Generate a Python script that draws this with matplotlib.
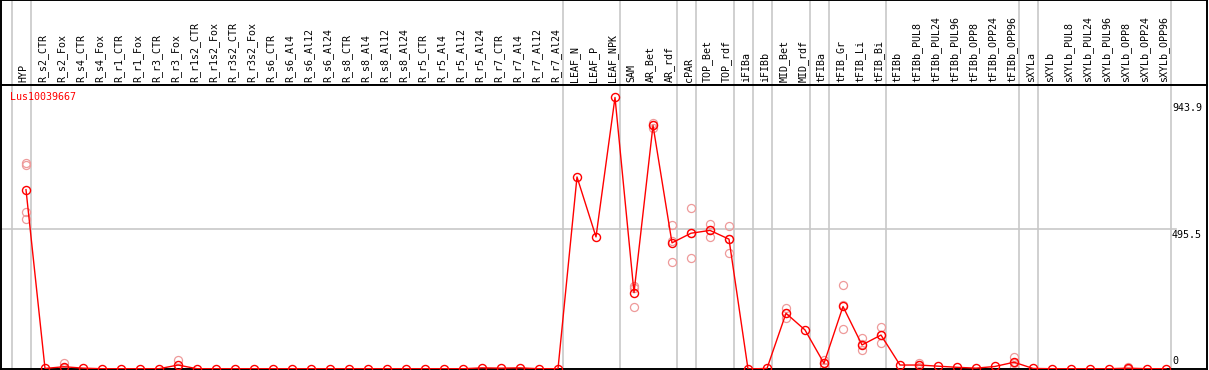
import matplotlib
matplotlib.use("Agg")
import matplotlib.pyplot as plt
from matplotlib.transforms import blended_transform_factory

samples = ["HYP", "R_s2_CTR", "R_s2_Fox", "R_s4_CTR", "R_s4_Fox", "R_r1_CTR", "R_r1_Fox",
           "R_r3_CTR", "R_r3_Fox", "R_r1s2_CTR", "R_r1s2_Fox", "R_r3s2_CTR", "R_r3s2_Fox",
           "R_s6_CTR", "R_s6_Al4", "R_s6_Al12", "R_s6_Al24", "R_s8_CTR", "R_s8_Al4",
           "R_s8_Al12", "R_s8_Al24", "R_r5_CTR", "R_r5_Al4", "R_r5_Al12", "R_r5_Al24",
           "R_r7_CTR", "R_r7_Al4", "R_r7_Al12", "R_r7_Al24", "LEAF_N", "LEAF_P", "LEAF_NPK",
           "SAM", "AR_Bet", "AR_rdf", "cPAR", "TOP_Bet", "TOP_rdf", "iFIBa", "iFIBb",
           "MID_Bet", "MID_rdf", "tFIBa", "tFIB_Gr", "tFIB_Li", "tFIB_Bi", "tFIBb",
           "tFIBb_PUL8", "tFIBb_PUL24", "tFIBb_PUL96", "tFIBb_OPP8", "tFIBb_OPP24",
           "tFIBb_OPP96", "sXYLa", "sXYLb", "sXYLb_PUL8", "sXYLb_PUL24", "sXYLb_PUL96",
           "sXYLb_OPP8", "sXYLb_OPP24", "sXYLb_OPP96"]

mean_values = [634, 2, 8, 3, 1, 1, 1, 1, 14, 1, 1, 1, 1,
               1, 1, 1, 1, 1, 1, 1, 1, 1, 1, 1, 4,
               3, 4, 1, 1, 679, 467, 960,
               270, 861, 446, 480, 490, 459, 0, 2,
               197, 138, 20, 221, 85, 120, 14,
               14, 10, 6, 3, 9,
               24, 2, 1, 1, 1, 1,
               3, 1, 1]

replicates = {
    "HYP": [728, 720, 555, 531],
    "R_s2_Fox": [20, 3, 2],
    "R_r3_Fox": [32, 5, 4],
    "SAM": [294, 286, 218],
    "AR_Bet": [870, 864, 852],
    "AR_rdf": [509, 452, 378],
    "cPAR": [569, 480, 392],
    "TOP_Bet": [512, 490, 468],
    "TOP_rdf": [506, 459, 411],
    "MID_Bet": [215, 197, 180],
    "tFIBa": [32, 20, 8],
    "tFIB_Gr": [297, 226, 140],
    "tFIB_Li": [109, 88, 67],
    "tFIB_Bi": [148, 120, 91],
    "tFIBb_PUL8": [20, 14, 8],
    "tFIBb_OPP96": [44, 20, 8],
    "sXYLb_OPP8": [8, 2, 0],
}

group_ends = ["HYP", "R_r7_Al24", "LEAF_NPK", "AR_rdf", "cPAR", "TOP_rdf", "iFIBa",
              "iFIBb", "MID_rdf", "tFIBa", "tFIB_Bi", "tFIBb_OPP96", "sXYLa", "sXYLb_OPP96"]

gene = "Lus10039667"
ytick_values = [0, 495.5, 943.9]
ytick_labels = ["0", "495.5", "943.9"]

W, H = 1209, 370
fig = plt.figure(figsize=(W / 100, H / 100), dpi=100)

px_col = 19.0
x0_px = 26.0
left_px, right_px = 1.0, 1207.0
xlim = ((left_px - x0_px) / px_col, (right_px - x0_px) / px_col)

header_px = 85.0
bottom_px = 369.0
scale = 267.0 / 943.9
ytop = (bottom_px - header_px) / scale

ax_h = fig.add_axes([left_px / W, 1 - header_px / H, (right_px - left_px) / W, header_px / H])
ax = fig.add_axes([left_px / W, 1 - bottom_px / H, (right_px - left_px) / W, (bottom_px - header_px) / H])

grey = "#c8c8c8"
for a in (ax, ax_h):
    a.set_xlim(*xlim)
    a.set_xticks([])
    a.set_yticks([])
    for s in a.spines.values():
        s.set_linewidth(1.4)
        s.set_color("black")
    idx_ends = [samples.index(g) for g in group_ends]
    for i in [-1] + idx_ends:
        a.axvline(i + 0.26, color=grey, lw=1.2, zorder=0)

ax_h.set_ylim(0, 1)
ax.set_ylim(0, ytop)

xs = list(range(len(samples)))
for i, name in enumerate(samples):
    ax_h.text(i - 0.12, 0.035, name, rotation=90, ha="center", va="bottom",
              family="DejaVu Sans Mono", fontsize=7.2)

ax.axhline(495.5, color=grey, lw=1.2, zorder=0, xmax=(1176 - left_px) / (right_px - left_px))

# replicates
for name, vals in replicates.items():
    i = samples.index(name)
    ax.plot([i] * len(vals), vals, linestyle="none", marker="o", ms=5.8,
            mfc="none", mec="#ee9a9a", mew=0.9, zorder=2)

ax.plot(xs, mean_values, color="#ff0000", lw=1.0, marker="o", ms=5.8,
        mfc="none", mec="#ff0000", mew=1.0, zorder=3)

trans = blended_transform_factory(ax.transAxes, ax.transData)
tx = (1172 - left_px) / (right_px - left_px)
for v, lab in zip(ytick_values, ytick_labels):
    va = "bottom" if v == 0 else "top"
    yy = v + (3 / scale if v == 0 else -1 / scale)
    ax.text(tx, yy, lab, transform=trans, ha="left", va=va,
            family="DejaVu Sans Mono", fontsize=7.2)

fig.text(10 / W, 1 - 97 / H, gene, color="#ff0000", ha="left", va="center",
         family="DejaVu Sans Mono", fontsize=7.2)

fig.savefig("out.png", dpi=100)
